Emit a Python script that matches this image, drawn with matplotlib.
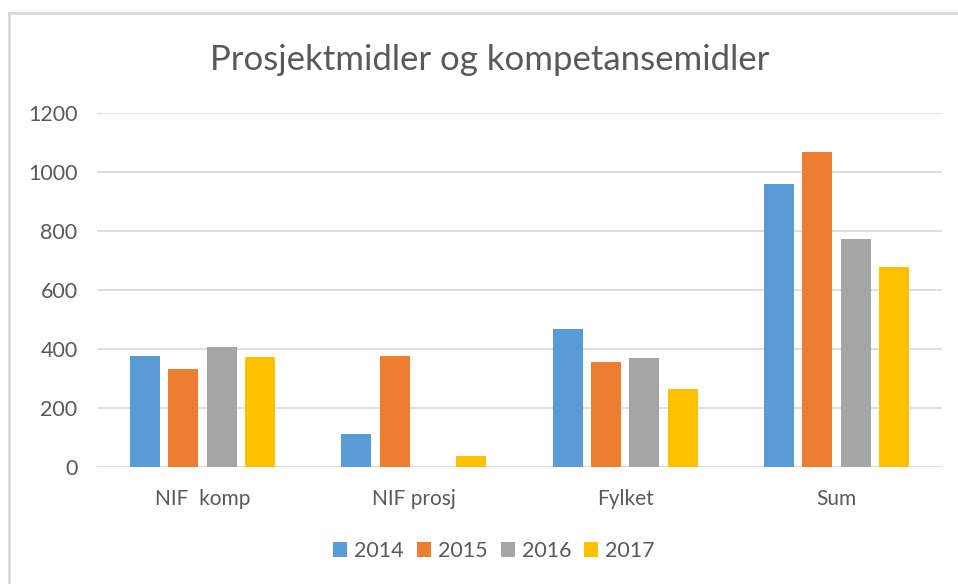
import numpy as np
import matplotlib.pyplot as plt

# Data
categories = ["NIF  komp", "NIF prosj", "Fylket", "Sum"]
years = ["2014", "2015", "2016", "2017"]
v2014 = [377, 111, 468, 960]
v2015 = [333, 377, 355, 1069]
v2016 = [408, 0, 368, 773]
v2017 = [372, 37, 263, 677]
colors = ["#5B9BD5", "#ED7D31", "#A5A5A5", "#FFC000"]

plt.rcParams['font.family'] = ['Lato', 'DejaVu Sans']
txt = "#595959"

fig = plt.figure(figsize=(9.58, 5.84), dpi=100)
ax = fig.add_axes([97/958, 1 - 467/584, (942-97)/958, (467-113)/584])

x = np.arange(len(categories))
step = 0.1815
width = 0.142
for i, vals in enumerate([v2014, v2015, v2016, v2017]):
    ax.bar(x + (i - 1.5)*step, vals, width, color=colors[i], label=years[i], zorder=3)

ax.set_xlim(-0.5, 3.5)
ax.set_ylim(0, 1200)
ax.set_yticks(range(0, 1201, 200))
ax.set_xticks(x)
ax.set_xticklabels(categories)
ax.grid(axis='y', color="#D9D9D9", linewidth=1.2, zorder=0)
for s in ax.spines.values():
    s.set_visible(False)
ax.tick_params(axis='both', length=0, labelsize=15.5, colors=txt)
ax.tick_params(axis='x', labelsize=15)
ax.tick_params(axis='y', pad=14)
ax.tick_params(axis='x', pad=16)

fig.text(490/958, 1 - 60/584, "Prosjektmidler og kompetansemidler", ha='center', va='center',
         fontsize=25, color=txt)

fig.legend(loc='center', bbox_to_anchor=(494/958, 1 - 551/584), ncol=4, frameon=False,
           fontsize=15.5, labelcolor=txt, handlelength=0.65, handleheight=0.65,
           handletextpad=0.33, columnspacing=0.6)

# chart border (top and left only visible)
fig.add_artist(plt.Line2D([9/958, 9/958], [0, 1 - 13/584], transform=fig.transFigure,
                          color="#D9D9D9", linewidth=2))
fig.add_artist(plt.Line2D([9/958, 1], [1 - 13/584, 1 - 13/584], transform=fig.transFigure,
                          color="#D9D9D9", linewidth=2))

fig.savefig("out.png", dpi=100)
